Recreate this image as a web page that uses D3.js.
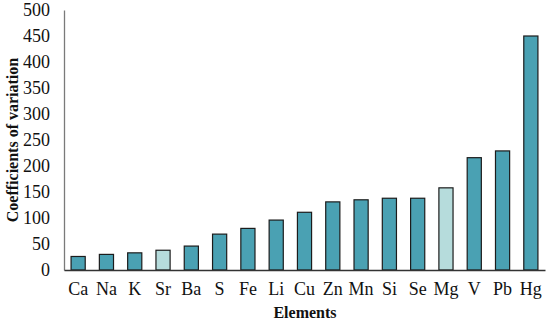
<!DOCTYPE html>
<html>
<head>
	<script src="https://d3js.org/d3.v7.min.js"></script>
	<style>
		body { margin: 0; background: #fff; }
	</style>
</head>
<body>
	<div id="plot"></div>
	<script type="text/javascript">
		// data
		const elements = ["Ca", "Na", "K", "Sr", "Ba", "S", "Fe", "Li", "Cu", "Zn", "Mn", "Si", "Se", "Mg", "V", "Pb", "Hg"];
		const cv = [26, 30, 33, 38, 46, 69, 80, 96, 111, 131, 135, 138, 138, 158, 216, 229, 450];
		const highlighted = ["Sr", "Mg"]; // lighter bars
		const yTicks = [0, 50, 100, 150, 200, 250, 300, 350, 400, 450, 500];

		var font = "'Liberation Serif', 'DejaVu Serif', serif";
		var w = 550, h = 324;
		var m = { left: 64, right: 5, top: 10, bottom: 54 };

		var svg = d3.select("#plot").append("svg")
			.attr("width", w).attr("height", h);

		var x = d3.scaleBand()
			.domain(elements)
			.range([m.left, w - m.right])
			.paddingInner(0.5).paddingOuter(0.25);

		var y = d3.scaleLinear()
			.domain([0, 500])
			.range([h - m.bottom, m.top]);

		// bars
		svg.selectAll("rect")
			.data(elements)
			.enter().append("rect")
			.attr("x", d => x(d))
			.attr("y", (d, i) => y(cv[i]))
			.attr("width", x.bandwidth())
			.attr("height", (d, i) => y(0) - y(cv[i]))
			.attr("fill", d => highlighted.includes(d) ? "#b6dcdc" : "#4aa1b3")
			.attr("stroke", "#1c1c1c")
			.attr("stroke-width", 1.2);

		// y axis
		var yAxis = svg.append("g")
			.attr("transform", "translate(" + m.left + ",0)")
			.call(d3.axisLeft(y).tickValues(yTicks).tickSize(0).tickPadding(14))
			.attr("font-family", font).attr("font-size", 18);
		yAxis.select(".domain").attr("stroke", "#7a7a7a").attr("stroke-width", 1.3);
		yAxis.selectAll("text").attr("fill", "#111");

		// x axis
		var xAxis = svg.append("g")
			.attr("transform", "translate(0," + y(0) + ")")
			.call(d3.axisBottom(x).tickSize(0).tickPadding(12))
			.attr("font-family", font).attr("font-size", 18);
		xAxis.select(".domain").attr("stroke", "#333").attr("stroke-width", 1.3);
		xAxis.selectAll("text").attr("fill", "#111");

		// titles
		svg.append("text")
			.attr("x", 305)
			.attr("y", 318)
			.attr("text-anchor", "middle")
			.attr("font-family", font).attr("font-size", 16).attr("font-weight", "bold")
			.attr("fill", "#111")
			.text("Elements");

		svg.append("text")
			.attr("transform", "translate(18," + 140 + ") rotate(-90)")
			.attr("text-anchor", "middle")
			.attr("font-family", font).attr("font-size", 16).attr("font-weight", "bold")
			.attr("fill", "#111")
			.text("Coefficients of variation");
	</script>
</body>
</html>
